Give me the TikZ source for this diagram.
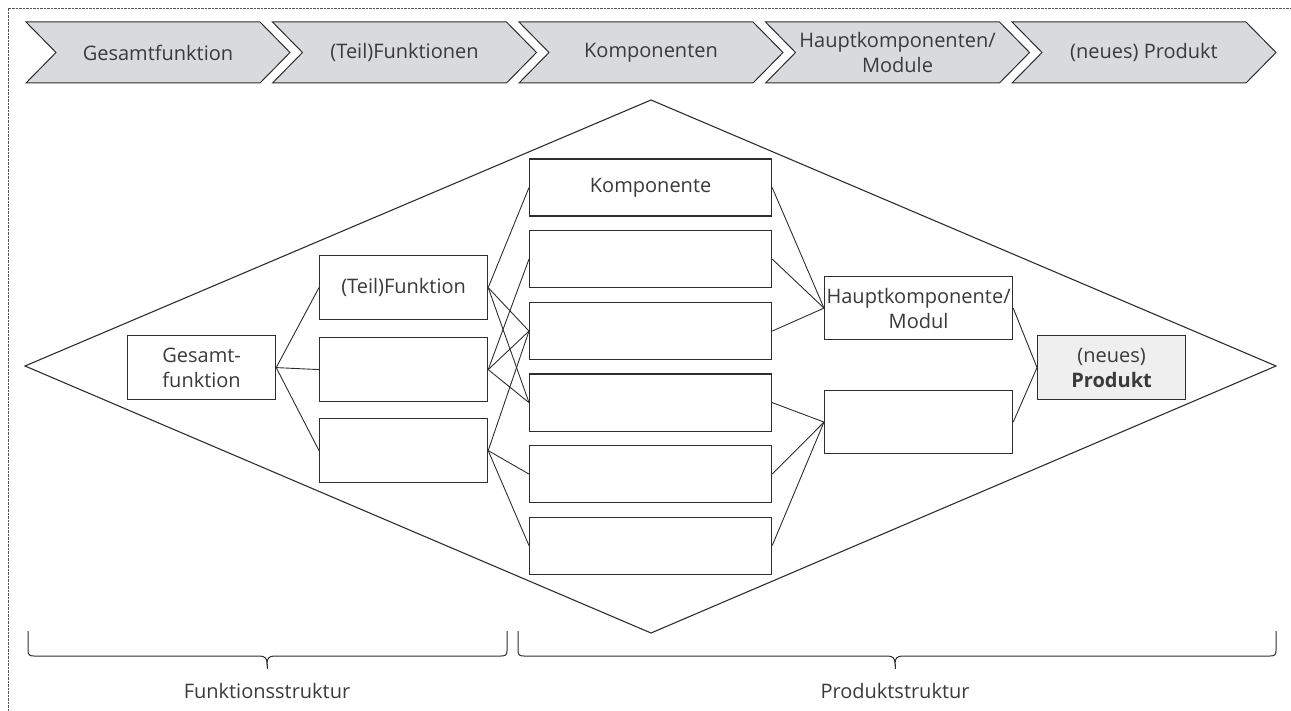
\documentclass[tikz,border=0pt]{standalone}
\usepackage{fontspec}
\setmainfont{Open Sans}
\definecolor{linegray}{HTML}{2E2E2E}
\definecolor{textgray}{HTML}{3A3A3A}
\definecolor{chevfill}{HTML}{D9DADC}
\definecolor{prodfill}{HTML}{EFEFEF}
\definecolor{framegray}{HTML}{555555}
\begin{document}
\begin{tikzpicture}[x=1pt,y=-1pt,
  txt/.style={text=textgray, font=\fontsize{20}{25}\selectfont, align=center},
  box/.style={draw=linegray, line width=1.2pt, fill=white, inner sep=0pt, txt, anchor=north west},
  link/.style={draw=linegray, line width=0.9pt},
  chev/.style={draw=linegray, fill=chevfill, line width=1pt, line join=miter},
  bracepath/.style={draw=linegray, line width=1pt}
]
\useasboundingbox (0,0) rectangle (1291,711);

% frame
\draw[framegray, line width=0.8pt, dash pattern=on 2.5pt off 1pt] (8,711) -- (8,8) -- (1291,8);

% process chevrons
\foreach \L/\nm/\t in {26/c1/{Gesamtfunktion}, 272.5/c2/{(Teil)Funktionen}, 519/c3/{Komponenten}, 765.5/c4/{Hauptkomponenten/\\Module}, 1012/c5/{(neues) Produkt}}{
  \draw[chev] (\L,22) -- ++(234,0) -- ++(30,30.5) -- ++(-30,30.5) -- ++(-234,0) -- ++(30,-30.5) -- cycle;
  \node[txt] (\nm) at (\L+132,52.5) {\t};
}

% outer diamond
\draw[link, line width=1.1pt] (25,366) -- (651,100) -- (1276,366) -- (651,633) -- cycle;

% function structure
\node[box, minimum width=148pt, minimum height=64pt] (g) at (127,335) {Gesamt-\\funktion};
\node[box, minimum width=168pt, minimum height=64pt] (f1) at (319,255) {(Teil)Funktion};
\node[box, minimum width=168pt, minimum height=64pt] (f2) at (319,337) {};
\node[box, minimum width=168pt, minimum height=64pt] (f3) at (319,418) {};

% components
\foreach \i/\y in {1/158.5, 2/230, 3/302, 4/373.5, 5/445, 6/516.5}{
  \node[box, minimum width=242pt, minimum height=57pt] (k\i) at (529,\y) {};
}
\node[txt] at (k1) {Komponente};

% main components / modules
\node[box, minimum width=188pt, minimum height=63pt] (h1) at (824,276) {Hauptkomponente/\\Modul};
\node[box, minimum width=188pt, minimum height=63pt] (h2) at (824,390) {};

% product
\node[box, fill=prodfill, minimum width=148pt, minimum height=64pt] (p) at (1037,335) {(neues)\\\textbf{Produkt}};

% connectors
\foreach \f in {f1,f2,f3}{ \draw[link] (g.east) -- (\f.west); }
\foreach \k in {k1,k3,k4}{ \draw[link] (f1.east) -- (\k.west); }
\foreach \k in {k2,k3,k4}{ \draw[link] (f2.east) -- (\k.west); }
\foreach \k in {k3,k5,k6}{ \draw[link] (f3.east) -- (\k.west); }
\foreach \k in {k1,k2,k3}{ \draw[link] (\k.east) -- (h1.west); }
\foreach \k in {k4,k5,k6}{ \draw[link] (\k.east) -- (h2.west); }
\draw[link] (h1.east) -- (p.west);
\draw[link] (h2.east) -- (p.west);

% braces
\draw[bracepath] (28,631) -- (28,651) .. controls (28,655) and (30,656) .. (34,656)
  -- (259,656) .. controls (265,656) and (267,658) .. (267,664)
  .. controls (267,658) and (269,656) .. (275,656)
  -- (501,656) .. controls (505,656) and (507,655) .. (507,651) -- (507,631);
\draw[bracepath] (267,664) -- (267,669);
\draw[bracepath] (518,631) -- (518,651) .. controls (518,655) and (520,656) .. (524,656)
  -- (887,656) .. controls (893,656) and (895,658) .. (895,664)
  .. controls (895,658) and (897,656) .. (903,656)
  -- (1270,656) .. controls (1274,656) and (1276,655) .. (1276,651) -- (1276,631);
\draw[bracepath] (895,664) -- (895,669);

\node[txt] (fs) at (267,691) {Funktionsstruktur};
\node[txt] (ps) at (895,691) {Produktstruktur};
\end{tikzpicture}
\end{document}
